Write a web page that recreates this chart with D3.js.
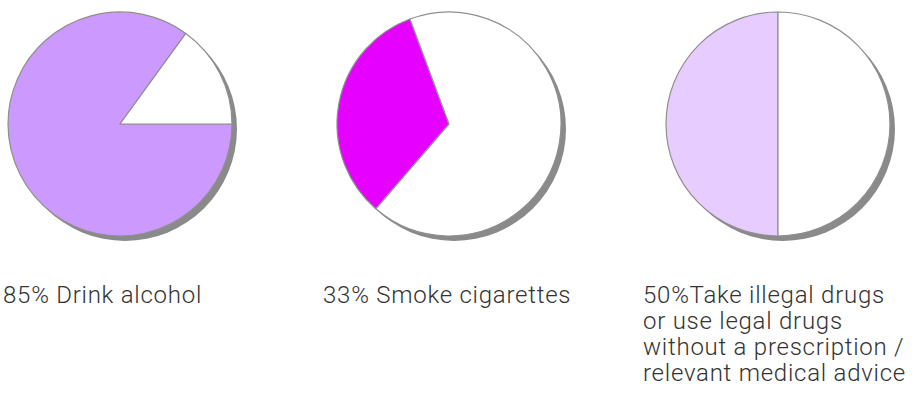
<!DOCTYPE html>
<html>
<head>
<meta charset="utf-8">
<script src="https://cdn.jsdelivr.net/npm/d3@7"></script>
<style>
  html, body { margin: 0; padding: 0; background: #ffffff; }
  svg { display: block; }
  .label { font-family: Roboto, "Liberation Sans", sans-serif; font-weight: 300; fill: #333333; }
</style>
</head>
<body>
<svg id="chart" width="917" height="402"></svg>
<script>
// ---- data ----
const categories = ["Drink alcohol", "Smoke cigarettes", "Illegal drugs"];
const percentages = [85, 33, 50];
const labelLines = [
  ["85% Drink alcohol"],
  ["33% Smoke cigarettes"],
  ["50%Take illegal drugs", "or use legal drugs", "without a prescription /", "relevant medical advice"]
];
const sliceColors = ["#CC99FF", "#E600FF", "#E6CCFF"];
const startDegrees = [90, 220.8, 180];

// ---- layout ----
const W = 917, H = 402;
const radius = 112;
const cy = 124;
const shadowOffset = 5;

const svg = d3.select("#chart");

const xCenter = d3.scalePoint().domain(categories).range([120, 778]);
const xLabel = d3.scalePoint().domain(categories).range([3, 643]);

const arc = d3.arc().innerRadius(0).outerRadius(radius);

categories.forEach((cat, i) => {
  const g = svg.append("g")
    .attr("transform", `translate(${xCenter(cat)},${cy})`);

  // shadow
  g.append("circle")
    .attr("cx", shadowOffset)
    .attr("cy", shadowOffset)
    .attr("r", radius)
    .attr("fill", "#8a8a8a");

  const start = startDegrees[i] * Math.PI / 180;
  const pie = d3.pie()
    .sort(null)
    .value(d => d.v)
    .startAngle(start)
    .endAngle(start + 2 * Math.PI);

  const parts = [
    { v: percentages[i], color: sliceColors[i] },
    { v: 100 - percentages[i], color: "#ffffff" }
  ];

  g.selectAll("path")
    .data(pie(parts))
    .join("path")
    .attr("d", arc)
    .attr("fill", d => d.data.color)
    .attr("stroke", "#8f8f8f")
    .attr("stroke-width", 1.2)
    .attr("stroke-linejoin", "round");

  const t = svg.append("text")
    .attr("class", "label")
    .attr("x", xLabel(cat))
    .attr("y", 303)
    .style("font-size", "24px")
    .style("letter-spacing", "0.75px");

  labelLines[i].forEach((line, j) => {
    t.append("tspan")
      .attr("x", xLabel(cat))
      .attr("dy", j === 0 ? 0 : 26)
      .text(line);
  });
});
</script>
</body>
</html>
